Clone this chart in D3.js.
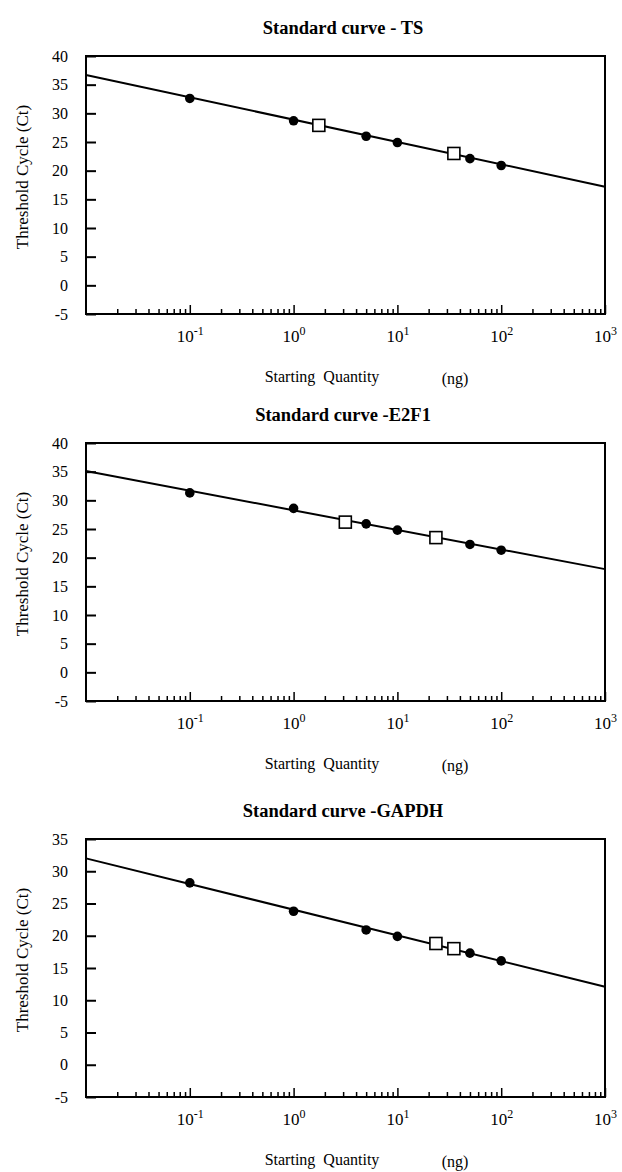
<!DOCTYPE html>
<html>
<head>
<meta charset="utf-8">
<script src="https://cdn.jsdelivr.net/npm/d3@7/dist/d3.min.js"></script>
<style>
  body { margin: 0; background: #fff; }
  svg { display: block; font-family: "Liberation Serif", "DejaVu Serif", serif; }
</style>
</head>
<body>
<script>
const width = 622;
const height = 1172;

// panel titles and y ranges
const titles = ["Standard curve - TS", "Standard curve -E2F1", "Standard curve -GAPDH"];
const yDomains = [[-5, 40], [-5, 40], [-5, 35]];
const yTickStep = 5;

// x axis: starting quantity (ng), log scale
const xDomain = [0.01, 1000];
const xMajor = [0.1, 1, 10, 100, 1000];
const xMajorExp = ["-1", "0", "1", "2", "3"];

// standards (filled dots), [ng, Ct]
const tsStandards = [[0.1, 32.6], [1, 28.7], [5, 26.0], [10, 24.9], [50, 22.1], [100, 20.9]];
const e2f1Standards = [[0.1, 31.3], [1, 28.6], [5, 25.9], [10, 24.8], [50, 22.3], [100, 21.3]];
const gapdhStandards = [[0.1, 28.2], [1, 23.8], [5, 20.9], [10, 19.9], [50, 17.3], [100, 16.1]];

// unknown samples (open squares)
const tsSamples = [[1.75, 27.9], [35, 23.0]];
const e2f1Samples = [[3.15, 26.2], [23.5, 23.5]];
const gapdhSamples = [[23.5, 18.8], [35, 18.0]];

// fitted regression lines, end points
const tsFit = [[0.01, 36.7], [1000, 17.2]];
const e2f1Fit = [[0.01, 35.1], [1000, 18.0]];
const gapdhFit = [[0.01, 32.0], [1000, 12.1]];

const panels = [
  {title: titles[0], yDomain: yDomains[0], standards: tsStandards, samples: tsSamples, fit: tsFit},
  {title: titles[1], yDomain: yDomains[1], standards: e2f1Standards, samples: e2f1Samples, fit: e2f1Fit},
  {title: titles[2], yDomain: yDomains[2], standards: gapdhStandards, samples: gapdhSamples, fit: gapdhFit},
];

const left = 86, right = 605, plotH = 258;
const tops = [56, 443, 839];
const serif = "Liberation Serif, DejaVu Serif, serif";

const svg = d3.select("body").append("svg")
  .attr("width", width)
  .attr("height", height);

const x = d3.scaleLog().domain(xDomain).range([left, right]);

// minor ticks 2..9 per decade
const xMinor = x.ticks().filter(d => {
  const m = d / Math.pow(10, Math.floor(Math.log10(d) + 1e-9));
  return Math.round(m) !== 1;
});

panels.forEach((p, i) => {
  const top = tops[i];
  const bottom = top + plotH;
  const y = d3.scaleLinear().domain(p.yDomain).range([bottom, top]);
  const g = svg.append("g");

  g.append("text")
    .attr("x", 343)
    .attr("y", top - 22)
    .attr("text-anchor", "middle")
    .attr("font-weight", "bold")
    .attr("font-size", 18.5)
    .text(p.title);

  // y axis, ticks pointing inward
  const yTicks = d3.range(p.yDomain[0], p.yDomain[1] + 0.1, yTickStep);
  g.append("g")
    .attr("transform", `translate(${left},0)`)
    .call(d3.axisLeft(y).tickValues(yTicks).tickSize(-10).tickPadding(18).tickFormat(d => String(d)))
    .attr("font-family", serif)
    .attr("font-size", 16)
    .call(a => a.select(".domain").remove())
    .call(a => a.selectAll(".tick line").attr("stroke-width", 2))
    .call(a => a.selectAll(".tick text").attr("fill", "#000"));

  // x axis minor ticks
  g.append("g")
    .attr("transform", `translate(0,${bottom})`)
    .call(d3.axisBottom(x).tickValues(xMinor).tickSize(-5).tickFormat(""))
    .call(a => a.select(".domain").remove())
    .call(a => a.selectAll(".tick line").attr("stroke-width", 1.5));

  // x axis major ticks with 10^n labels
  g.append("g")
    .attr("transform", `translate(0,${bottom})`)
    .call(d3.axisBottom(x).tickValues(xMajor).tickSize(-9).tickPadding(14).tickFormat(""))
    .attr("font-family", serif)
    .attr("font-size", 17)
    .call(a => a.select(".domain").remove())
    .call(a => a.selectAll(".tick line").attr("stroke-width", 1.5))
    .call(a => a.selectAll(".tick text").each(function(d, j) {
      const t = d3.select(this)
        .attr("fill", "#000")
        .attr("dy", "0.85em");
      t.append("tspan").text("10");
      t.append("tspan").attr("font-size", 12).attr("dy", "-0.6em").text(xMajorExp[j]);
    }));

  // frame
  g.append("rect")
    .attr("x", left)
    .attr("y", top)
    .attr("width", right - left)
    .attr("height", plotH)
    .attr("fill", "none")
    .attr("stroke", "#000")
    .attr("stroke-width", 2);

  // axis titles
  g.append("text")
    .attr("transform", `translate(28,${(top + bottom) / 2 - 8}) rotate(-90)`)
    .attr("text-anchor", "middle")
    .attr("font-size", 17)
    .text("Threshold Cycle (Ct)");

  g.append("text")
    .attr("x", 322)
    .attr("y", bottom + 68)
    .attr("text-anchor", "middle")
    .attr("font-size", 16)
    .attr("xml:space", "preserve")
    .text("Starting  Quantity");

  g.append("text")
    .attr("x", 455)
    .attr("y", bottom + 70)
    .attr("text-anchor", "middle")
    .attr("font-size", 16)
    .text("(ng)");

  // fitted line
  const line = d3.line().x(d => x(d[0])).y(d => y(d[1]));
  g.append("path")
    .datum(p.fit)
    .attr("d", line)
    .attr("fill", "none")
    .attr("stroke", "#000")
    .attr("stroke-width", 2);

  g.selectAll(".std")
    .data(p.standards)
    .join("circle")
    .attr("class", "std")
    .attr("cx", d => x(d[0]))
    .attr("cy", d => y(d[1]))
    .attr("r", 4.8)
    .attr("fill", "#000");

  const s = 12;
  g.selectAll(".smp")
    .data(p.samples)
    .join("rect")
    .attr("class", "smp")
    .attr("x", d => x(d[0]) - s / 2)
    .attr("y", d => y(d[1]) - s / 2)
    .attr("width", s)
    .attr("height", s)
    .attr("fill", "#fff")
    .attr("stroke", "#000")
    .attr("stroke-width", 1.6);
});
</script>
</body>
</html>
